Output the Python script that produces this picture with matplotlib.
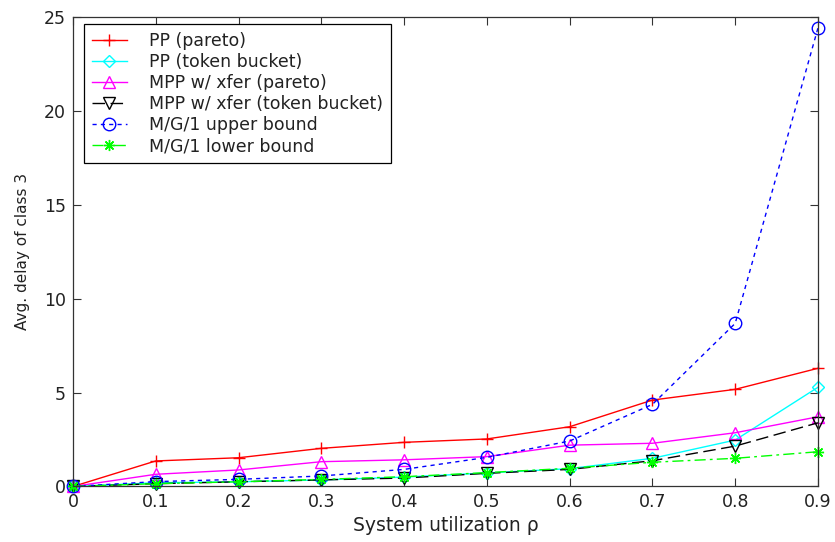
import matplotlib
matplotlib.use('Agg')
import matplotlib.pyplot as plt
import numpy as np

plt.rcParams['font.family'] = ['DejaVu Sans']

# ticks, MATLAB style
plt.rcParams['xtick.direction'] = 'in'
plt.rcParams['ytick.direction'] = 'in'
plt.rcParams['xtick.top'] = True
plt.rcParams['ytick.right'] = True
plt.rcParams['xtick.major.size'] = 5.5
plt.rcParams['ytick.major.size'] = 5.5
plt.rcParams['xtick.major.width'] = 0.8
plt.rcParams['ytick.major.width'] = 0.8
plt.rcParams['axes.linewidth'] = 0.9
plt.rcParams['axes.edgecolor'] = '#333333'

#########################################
#               data                    #
#########################################
rho = [0, 0.1, 0.2, 0.3, 0.4, 0.5, 0.6, 0.7, 0.8, 0.9]
pp_pareto = [0, 1.36, 1.53, 2.03, 2.35, 2.53, 3.18, 4.6, 5.17, 6.29]
pp_token = [0, 0.2, 0.25, 0.35, 0.5, 0.72, 0.95, 1.5, 2.47, 5.28]
mpp_pareto = [0, 0.65, 0.88, 1.32, 1.42, 1.59, 2.2, 2.3, 2.86, 3.71]
mpp_token = [0, 0.15, 0.25, 0.35, 0.45, 0.7, 0.91, 1.37, 2.15, 3.39]
mg1_upper = [0, 0.26, 0.38, 0.56, 0.91, 1.55, 2.42, 4.37, 8.68, 24.4]
mg1_lower = [0, 0.15, 0.25, 0.38, 0.52, 0.74, 0.97, 1.29, 1.5, 1.85]

xticks = [0, 0.1, 0.2, 0.3, 0.4, 0.5, 0.6, 0.7, 0.8, 0.9]
xtick_labels = ['0', '0.1', '0.2', '0.3', '0.4', '0.5', '0.6', '0.7', '0.8', '0.9']
yticks = [0, 5, 10, 15, 20, 25]

fig = plt.figure(figsize=(8.35, 5.42), dpi=100)
ax = fig.add_axes([0.0874, 0.1024, 0.8922, 0.8668])

ms = 8
lw = 1.0
common = dict(ms=ms, lw=lw, mfc='none', clip_on=False)
ax.plot(rho, pp_pareto, '-', color='#ff0000', marker='+', label='PP (pareto)', **common)
ax.plot(rho, pp_token, '-', color='#00ffff', marker='D', label='PP (token bucket)',
        **{**common, 'ms': 6.5})
ax.plot(rho, mpp_pareto, '-', color='#ff00ff', marker='^', label='MPP w/ xfer (pareto)', **common)
ax.plot(rho, mpp_token, color='black', marker='v', dashes=(9, 4),
        label='MPP w/ xfer (token bucket)', **common)
ax.plot(rho, mg1_upper, color='#0000ff', marker='o', dashes=(3, 3),
        label='M/G/1 upper bound', **{**common, 'ms': 9})
ax.plot(rho, mg1_lower, color='#00ff00', marker=(8, 2, 0), dashes=(8, 3, 2, 3),
        label='M/G/1 lower bound', **common)

ax.set_xlim(0, 0.9)
ax.set_ylim(0, 25)
ax.set_xticks(xticks)
ax.set_xticklabels(xtick_labels)
ax.set_yticks(yticks)
ax.tick_params(axis='both', which='major', labelsize=12.5, pad=5, colors='#333333',
               labelcolor='#222222')
ax.set_xlabel('System utilization \u03c1', fontsize=13.5, labelpad=3, color='#222222')
ax.set_ylabel('Avg. delay of class 3', fontsize=11, labelpad=10, color='#222222')

leg = ax.legend(loc='upper left', bbox_to_anchor=(0.0148, 0.9845), borderaxespad=0,
                fontsize=12.5, handlelength=2.0, handletextpad=1.3, labelspacing=0.18,
                borderpad=0.45, fancybox=False, framealpha=1)
leg.get_frame().set_edgecolor('black')
leg.get_frame().set_linewidth(0.9)
for t in leg.get_texts():
    t.set_color('#222222')

plt.savefig('out.png', dpi=100)
